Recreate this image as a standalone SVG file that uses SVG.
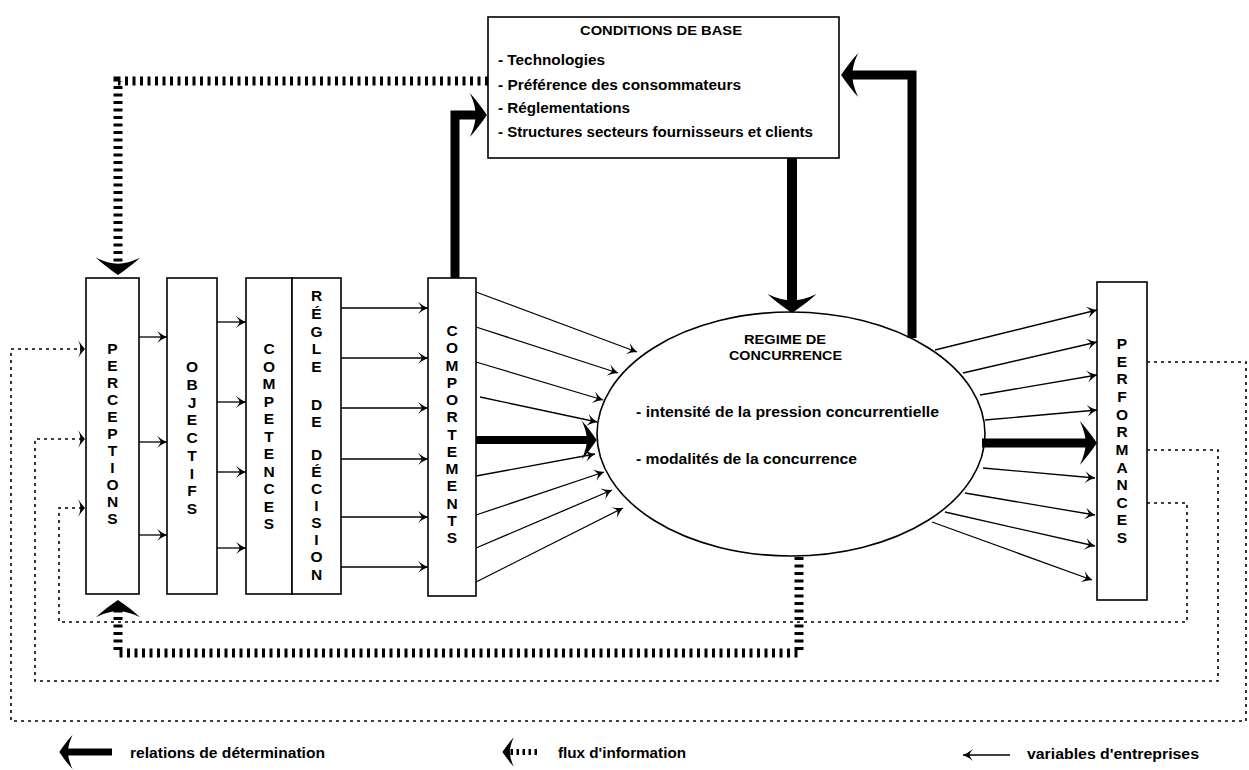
<svg xmlns="http://www.w3.org/2000/svg" width="1249" height="770" viewBox="0 0 1249 770">
<style>
.box{fill:#fff;stroke:#000;stroke-width:1.6}
.t{font-family:"Liberation Sans",Arial,sans-serif;font-weight:bold;fill:#000}
.v{font-size:15.5px;text-anchor:middle}
.thin{fill:none;stroke:#000;stroke-width:1.3;marker-end:url(#hThin)}
.thick{fill:none;stroke:#000;marker-end:url(#hThick)}
.info{fill:none;stroke:#000;stroke-width:9;stroke-dasharray:3 4.5;marker-end:url(#hThick)}
.var{fill:none;stroke:#000;stroke-width:1.6;stroke-dasharray:3 4;marker-end:url(#hVar)}
</style>
<defs>
<marker id="hThick" markerUnits="strokeWidth" markerWidth="4" markerHeight="6" refX="0" refY="0" orient="auto" overflow="visible">
<path d="M1.1,0 C0.5,-0.9 -0.2,-1.8 -0.8,-2.45 Q-0.15,-1.1 -0.15,0 Q-0.15,1.1 -0.8,2.45 C-0.2,1.8 0.5,0.9 1.1,0 Z" fill="#000"/>
</marker>
<marker id="hThin" markerUnits="userSpaceOnUse" markerWidth="12" markerHeight="12" refX="0" refY="0" orient="auto" overflow="visible">
<path d="M0,0 Q-5,-2 -10,-6 Q-6,-1 -6.5,0 Q-6,1 -10,6 Q-5,2 0,0 Z" fill="#000"/>
</marker>
<marker id="hVar" markerUnits="userSpaceOnUse" markerWidth="12" markerHeight="20" refX="0" refY="0" orient="auto" overflow="visible">
<path d="M0,0 Q-3,-3 -7,-9 Q-4,-3 -5,0 Q-4,3 -7,9 Q-3,3 0,0 Z" fill="#000"/>
</marker>
</defs>
<rect width="1249" height="770" fill="#fff"/>

<g id="conditions">
<rect class="box" x="488" y="17" width="351" height="141" stroke-width="2"/>
<text class="t" x="580" y="35" font-size="13" textLength="162" lengthAdjust="spacingAndGlyphs">CONDITIONS DE BASE</text>
<text class="t" x="498" y="65" font-size="14.5" textLength="107" lengthAdjust="spacingAndGlyphs">- Technologies</text>
<text class="t" x="498" y="90" font-size="14.5" textLength="243" lengthAdjust="spacingAndGlyphs">- Préférence des consommateurs</text>
<text class="t" x="498" y="113" font-size="14.5" textLength="132" lengthAdjust="spacingAndGlyphs">- Réglementations</text>
<text class="t" x="498" y="137" font-size="14.5" textLength="315" lengthAdjust="spacingAndGlyphs">- Structures secteurs fournisseurs et clients</text>
</g>

<g id="regime">
<ellipse class="box" cx="791" cy="434" rx="194" ry="122" stroke-width="2"/>
<text class="t" x="744" y="344" font-size="13.5" textLength="82" lengthAdjust="spacingAndGlyphs">REGIME DE</text>
<text class="t" x="729" y="360" font-size="13.5" textLength="113" lengthAdjust="spacingAndGlyphs">CONCURRENCE</text>
<text class="t" x="636" y="417" font-size="14.5" textLength="303" lengthAdjust="spacingAndGlyphs">- intensité de la pression concurrentielle</text>
<text class="t" x="636" y="464" font-size="14.5" textLength="221" lengthAdjust="spacingAndGlyphs">- modalités de la concurrence</text>
</g>

<g id="perceptions">
<rect class="box" x="86" y="278" width="53" height="316"/>
<text class="t v"><tspan x="112.5" y="354">P</tspan><tspan x="112.5" y="371">E</tspan><tspan x="112.5" y="388">R</tspan><tspan x="112.5" y="405">C</tspan><tspan x="112.5" y="422">E</tspan><tspan x="112.5" y="439">P</tspan><tspan x="112.5" y="456">T</tspan><tspan x="112.5" y="473">I</tspan><tspan x="112.5" y="490">O</tspan><tspan x="112.5" y="507">N</tspan><tspan x="112.5" y="524">S</tspan></text>
</g>

<g id="objectifs">
<rect class="box" x="167" y="278" width="50" height="316"/>
<text class="t v"><tspan x="192" y="372">O</tspan><tspan x="192" y="389.8">B</tspan><tspan x="192" y="407.5">J</tspan><tspan x="192" y="425.3">E</tspan><tspan x="192" y="443">C</tspan><tspan x="192" y="460.8">T</tspan><tspan x="192" y="478.5">I</tspan><tspan x="192" y="496.3">F</tspan><tspan x="192" y="514">S</tspan></text>
</g>

<g id="competences">
<rect class="box" x="246" y="278" width="46" height="316"/>
<text class="t v"><tspan x="269" y="354">C</tspan><tspan x="269" y="371.5">O</tspan><tspan x="269" y="389">M</tspan><tspan x="269" y="406.5">P</tspan><tspan x="269" y="424">E</tspan><tspan x="269" y="441.5">T</tspan><tspan x="269" y="459">E</tspan><tspan x="269" y="476.5">N</tspan><tspan x="269" y="494">C</tspan><tspan x="269" y="511.5">E</tspan><tspan x="269" y="529">S</tspan></text>
</g>

<g id="regle-de-decision">
<rect class="box" x="292" y="278" width="49" height="316" stroke-width="2.2"/>
<text class="t v"><tspan x="316.5" y="301">R</tspan><tspan x="316.5" y="319">É</tspan><tspan x="316.5" y="337">G</tspan><tspan x="316.5" y="354">L</tspan><tspan x="316.5" y="372">E</tspan><tspan x="316.5" y="410">D</tspan><tspan x="316.5" y="427">E</tspan><tspan x="316.5" y="460">D</tspan><tspan x="316.5" y="477">É</tspan><tspan x="316.5" y="494">C</tspan><tspan x="316.5" y="511">I</tspan><tspan x="316.5" y="528">S</tspan><tspan x="316.5" y="545">I</tspan><tspan x="316.5" y="562">O</tspan><tspan x="316.5" y="580">N</tspan></text>
</g>

<g id="comportements">
<rect class="box" x="428" y="278" width="48" height="318"/>
<text class="t v"><tspan x="452" y="336">C</tspan><tspan x="452" y="353.3">O</tspan><tspan x="452" y="370.5">M</tspan><tspan x="452" y="387.8">P</tspan><tspan x="452" y="405">O</tspan><tspan x="452" y="422.3">R</tspan><tspan x="452" y="439.5">T</tspan><tspan x="452" y="456.8">E</tspan><tspan x="452" y="474">M</tspan><tspan x="452" y="491.3">E</tspan><tspan x="452" y="508.5">N</tspan><tspan x="452" y="525.8">T</tspan><tspan x="452" y="543">S</tspan></text>
</g>

<g id="performances">
<rect class="box" x="1097" y="282" width="50" height="318"/>
<text class="t v"><tspan x="1122" y="349">P</tspan><tspan x="1122" y="366.6">E</tspan><tspan x="1122" y="384.3">R</tspan><tspan x="1122" y="401.9">F</tspan><tspan x="1122" y="419.6">O</tspan><tspan x="1122" y="437.2">R</tspan><tspan x="1122" y="454.8">M</tspan><tspan x="1122" y="472.5">A</tspan><tspan x="1122" y="490.1">N</tspan><tspan x="1122" y="507.8">C</tspan><tspan x="1122" y="525.4">E</tspan><tspan x="1122" y="543">S</tspan></text>
</g>

<g id="connectors">
<path class="thin" d="M139,337 H167"/>
<path class="thin" d="M139,442 H167"/>
<path class="thin" d="M139,535 H167"/>
<path class="thin" d="M217,322 H246"/>
<path class="thin" d="M217,402 H246"/>
<path class="thin" d="M217,472 H246"/>
<path class="thin" d="M217,548 H246"/>
<path class="thin" d="M341,308 H428"/>
<path class="thin" d="M341,358 H428"/>
<path class="thin" d="M341,408 H428"/>
<path class="thin" d="M341,459 H428"/>
<path class="thin" d="M341,517 H428"/>
<path class="thin" d="M341,567 H428"/>
<path class="thin" d="M476,292 L637,352"/>
<path class="thin" d="M476,327 L618,373"/>
<path class="thin" d="M476,362 L603,400"/>
<path class="thin" d="M480,397 L597,422"/>
<path class="thin" d="M476,476 L595,454"/>
<path class="thin" d="M476,515 L604,472"/>
<path class="thin" d="M476,548 L612,490"/>
<path class="thin" d="M476,582 L623,508"/>
<path class="thick" stroke-width="8" d="M476,440 H588"/>
<path class="thin" d="M935,350 L1097,310"/>
<path class="thin" d="M963,373 L1097,342"/>
<path class="thin" d="M980,395 L1097,375"/>
<path class="thin" d="M985,420 L1097,410"/>
<path class="thin" d="M983,468 L1095,478"/>
<path class="thin" d="M965,493 L1095,515"/>
<path class="thin" d="M945,512 L1095,546"/>
<path class="thin" d="M932,522 L1092,580"/>
<path class="thick" stroke-width="9" d="M982,443 H1087"/>
<path class="thick" stroke-width="9" d="M455,278 V115 H477"/>
<path class="thick" stroke-width="9" d="M912,338 V75 H851"/>
<path class="thick" stroke-width="10" d="M792,158 V302"/>
<path class="info" d="M488,81 H118 V265"/>
<path class="info" d="M799,557 V653 H118 V610"/>
<path class="var" d="M1147,362 H1246 V721 H11 V349 H85"/>
<path class="var" d="M1147,450 H1218 V681 H35 V439 H85"/>
<path class="var" d="M1147,503 H1187 V622 H59 V508 H85"/>
</g>

<g id="legend">
<path class="thick" stroke-width="7" d="M112,752 H67"/>
<text class="t" x="130" y="758" font-size="14" textLength="195" lengthAdjust="spacingAndGlyphs">relations de détermination</text>
<path fill="none" stroke="#000" stroke-width="6" stroke-dasharray="2.5 3.5" marker-end="url(#hThick)" d="M537,752 H509"/>
<text class="t" x="558" y="758" font-size="14" textLength="128" lengthAdjust="spacingAndGlyphs">flux d'information</text>
<path class="thin" d="M1010,755 H963"/>
<text class="t" x="1027" y="759" font-size="14" textLength="172" lengthAdjust="spacingAndGlyphs">variables d'entreprises</text>
</g>
</svg>
